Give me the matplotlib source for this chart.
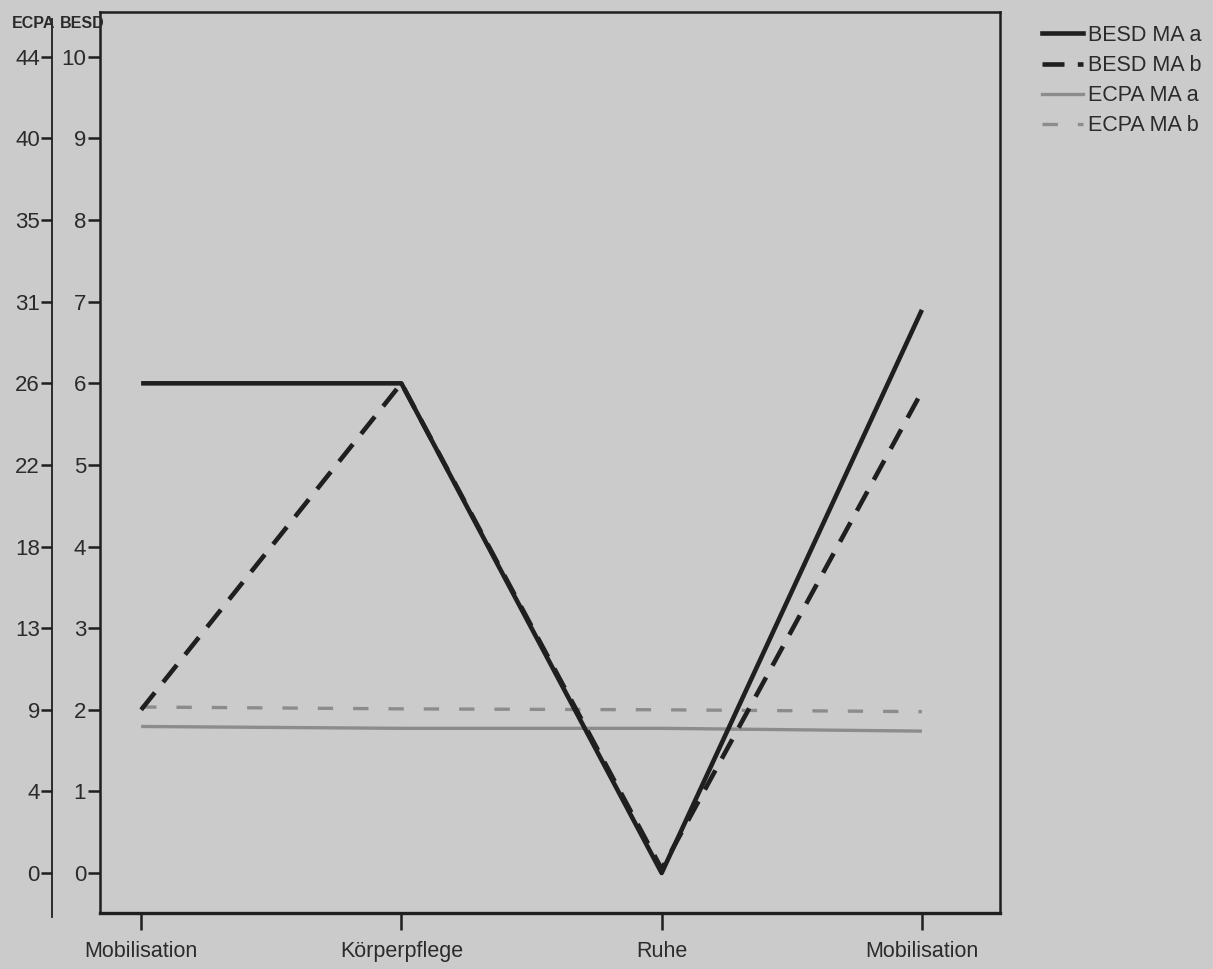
import matplotlib
matplotlib.use('Agg')
import matplotlib.pyplot as plt
from matplotlib.lines import Line2D
import numpy as np

# ---- data ----
categories = ['Mobilisation', 'Körperpflege', 'Ruhe', 'Mobilisation']
besd_ma_a = [6.0, 6.0, 0.0, 6.9]
besd_ma_b = [2.0, 6.0, 0.05, 5.9]
ecpa_ma_a = [7.9, 7.8, 7.8, 7.65]
ecpa_ma_b = [8.95, 8.85, 8.8, 8.7]
besd_ticks = list(range(0, 11))
ecpa_tick_labels = ['0', '4', '9', '13', '18', '22', '26', '31', '35', '40', '44']
series_labels = ['BESD MA a', 'BESD MA b', 'ECPA MA a', 'ECPA MA b']
BESD_MAX = 10
ECPA_MAX = 44

# ---- style ----
BG = '#cbcbcb'
DARK = '#1f1f1f'
GRAY = '#8c8c8c'
TXT = '#2b2b2b'
plt.rcParams['font.family'] = ['Liberation Sans', 'DejaVu Sans']

fig = plt.figure(figsize=(12.13, 9.69), dpi=100, facecolor=BG)
ax = fig.add_axes([100/1213, 1-913/969, 900/1213, 901/969])
ax2 = ax.twinx()
ax.set_zorder(ax2.get_zorder() + 1)
ax.patch.set_visible(False)
ax2.patch.set_visible(False)

x = np.arange(len(categories))
ylo, yhi = -0.49, 10.55
ax.set_ylim(ylo, yhi)
ax.set_xlim(-0.158, 3.30)
scale = ECPA_MAX / BESD_MAX
ax2.set_ylim(ylo*scale, yhi*scale)

# BESD lines
ax.plot(x, besd_ma_a, color=DARK, lw=3.3, solid_capstyle='butt', zorder=3)
ax.plot(x, besd_ma_b, color=DARK, lw=3.3, dashes=(4.8, 2.9), zorder=3)
# ECPA lines
ax2.plot(x, ecpa_ma_a, color=GRAY, lw=2.4, solid_capstyle='butt')
ax2.plot(x, ecpa_ma_b, color=GRAY, lw=2.4, dashes=(4.6, 6.0))

# main axes spines / ticks
for s in ['left', 'right', 'top', 'bottom']:
    ax.spines[s].set_color(DARK)
    ax.spines[s].set_linewidth(1.8)
ax.spines['bottom'].set_linewidth(2.4)
ax.set_yticks(besd_ticks)
ax.set_yticklabels([str(t) for t in besd_ticks])
ax.tick_params(axis='y', direction='out', length=9, width=1.8, colors=DARK,
               labelcolor=TXT, labelsize=16, pad=1)
ax.set_xticks(x)
ax.set_xticklabels(categories)
ax.tick_params(axis='x', direction='out', length=12, width=1.8, colors=DARK,
               labelcolor=TXT, labelsize=15.5, pad=8)

# ECPA axis (outer left)
for s in ['right', 'top', 'bottom']:
    ax2.spines[s].set_visible(False)
ax2.spines['left'].set_visible(True)
ax2.spines['left'].set_position(('axes', -0.053))
ax2.spines['left'].set_color(DARK)
ax2.spines['left'].set_linewidth(1.3)
ax2.spines['left'].set_bounds(ylo*scale - 0.2, yhi*scale - 0.4)
ax2.yaxis.set_ticks_position('left')
ax2.yaxis.set_label_position('left')
ecpa_ticks = np.linspace(0, ECPA_MAX, len(ecpa_tick_labels))
ax2.set_yticks(ecpa_ticks)
ax2.set_yticklabels(ecpa_tick_labels)
ax2.tick_params(axis='y', direction='out', length=8, width=1.8, colors=DARK,
                labelcolor=TXT, labelsize=16, pad=1)

# axis titles
fig.text(55/1213, 1-23/969, 'ECPA', ha='right', va='center', fontsize=11.5,
         fontweight='bold', color=TXT,
         family=['Liberation Sans Narrow', 'Liberation Sans', 'DejaVu Sans'])
fig.text(105/1213, 1-23/969, 'BESD', ha='right', va='center', fontsize=11.5,
         fontweight='bold', color=TXT,
         family=['Liberation Sans Narrow', 'Liberation Sans', 'DejaVu Sans'])

# legend
handles = [
    Line2D([], [], color=DARK, lw=3.3),
    Line2D([], [], color=DARK, lw=3.3, dashes=(4.8, 2.9)),
    Line2D([], [], color=GRAY, lw=2.4),
    Line2D([], [], color=GRAY, lw=2.4, dashes=(4.6, 6.0)),
]
leg = fig.legend(handles, series_labels, loc='upper left',
                 bbox_to_anchor=(1042/1213, 1-25/969), frameon=False,
                 fontsize=15.5, handlelength=1.9, handletextpad=0.22,
                 labelspacing=0.42, borderpad=0, borderaxespad=0)
for t in leg.get_texts():
    t.set_color(TXT)

fig.savefig('out.png', dpi=100, facecolor=BG)
